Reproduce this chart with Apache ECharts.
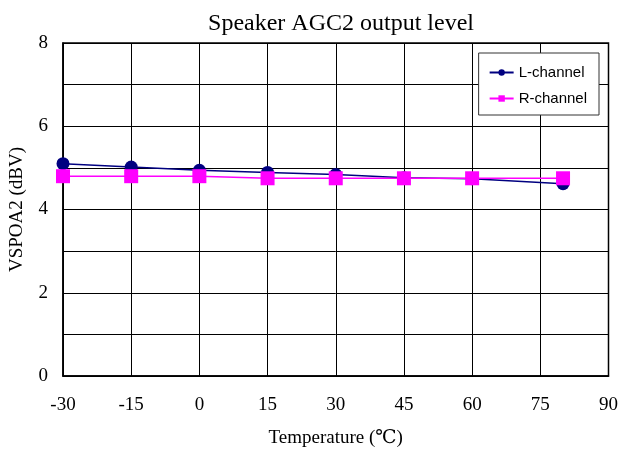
<!DOCTYPE html>
<html>
<head>
<meta charset="utf-8">
<script src="https://cdn.jsdelivr.net/npm/echarts@6/dist/echarts.min.js"></script>
<style>
  html, body { margin: 0; padding: 0; background: #fff; }
  #chart { width: 621px; height: 458px; }
</style>
</head>
<body>
<div id="chart"></div>
<script>
// temperatures (℃)
const temps = [-30, -15, 0, 15, 30, 45, 60, 80]
// output level (dBV)
const leftChannel = [5.1, 5.02, 4.94, 4.89, 4.84, 4.76, 4.74, 4.62]
const rightChannel = [4.8, 4.8, 4.8, 4.75, 4.75, 4.75, 4.75, 4.75]
const seriesNames = ['L-channel', 'R-channel']

const pair = (xs, ys) => xs.map((x, i) => [x, ys[i]])
const serif = '"Liberation Serif", "DejaVu Serif", serif'

const chart = echarts.init(document.getElementById('chart'))
chart.setOption({
  animation: false,
  title: {
    text: 'Speaker AGC2 output level',
    left: 336,
    textAlign: 'center',
    top: 7,
    textStyle: { fontFamily: serif, fontSize: 24, fontWeight: 'normal', color: '#000' }
  },
  grid: {
    left: 62, right: 12, top: 43, bottom: 82,
    show: true, borderColor: '#000', borderWidth: 1.5
  },
  legend: {
    orient: 'vertical',
    right: 22,
    top: 53,
    data: seriesNames,
    backgroundColor: '#fff',
    borderColor: '#333',
    borderWidth: 1,
    borderRadius: 0,
    padding: [12, 12, 9, 10],
    itemGap: 11,
    itemWidth: 24,
    itemHeight: 8,
    textStyle: { fontFamily: '"Liberation Sans", Arial, sans-serif', fontSize: 15, color: '#000' }
  },
  xAxis: {
    type: 'value',
    min: -30, max: 90, interval: 15,
    name: 'Temperature (℃)',
    nameLocation: 'middle',
    nameGap: 53,
    nameTextStyle: { fontFamily: serif, fontSize: 19, color: '#000' },
    axisLine: { onZero: false, lineStyle: { color: '#000', width: 1.5 } },
    axisTick: { show: false },
    axisLabel: { margin: 20, fontFamily: serif, fontSize: 19, color: '#000' },
    splitLine: { lineStyle: { color: '#000', width: 1 } }
  },
  yAxis: {
    type: 'value',
    min: 0, max: 8, interval: 1,
    name: 'VSPOA2 (dBV)',
    nameLocation: 'middle',
    nameGap: 36,
    nameTextStyle: { fontFamily: serif, fontSize: 19, color: '#000' },
    axisLine: { onZero: false, lineStyle: { color: '#000', width: 1.5 } },
    axisTick: { show: false },
    axisLabel: {
      margin: 15, fontFamily: serif, fontSize: 19, color: '#000',
      formatter: v => (v % 2 === 0 ? v : '')
    },
    splitLine: { lineStyle: { color: '#000', width: 1 } }
  },
  series: [
    {
      name: seriesNames[0],
      type: 'line',
      data: pair(temps, leftChannel),
      symbol: 'circle',
      symbolSize: 13,
      lineStyle: { color: '#000080', width: 1.5 },
      itemStyle: { color: '#000080' }
    },
    {
      name: seriesNames[1],
      type: 'line',
      data: pair(temps, rightChannel),
      symbol: 'rect',
      symbolSize: 14,
      lineStyle: { color: '#ff00ff', width: 1.5 },
      itemStyle: { color: '#ff00ff' }
    }
  ]
})
</script>
</body>
</html>
